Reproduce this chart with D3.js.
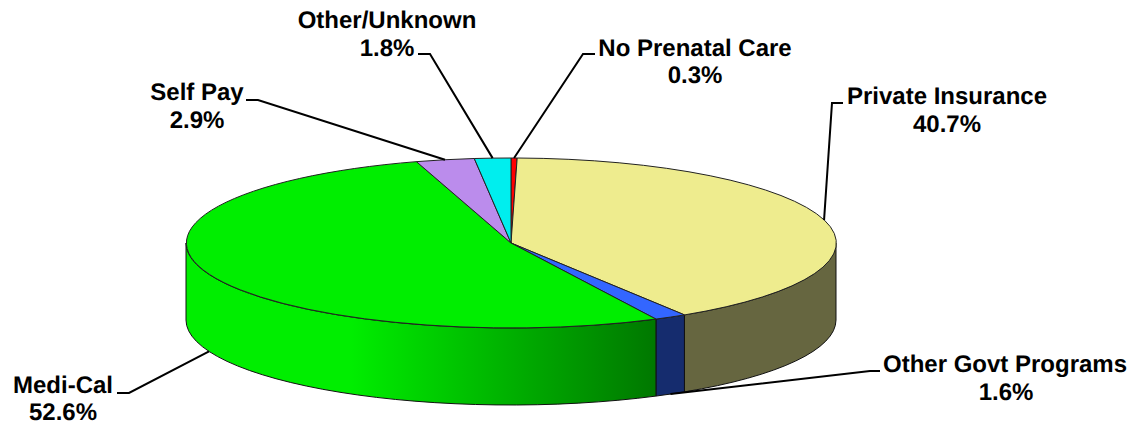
<!DOCTYPE html>
<html>
<head>
<meta charset="utf-8">
<script src="https://cdn.jsdelivr.net/npm/d3@7"></script>
<style>
html, body { margin: 0; padding: 0; background: #fff; }
text { font-family: "Liberation Sans", Arial, sans-serif; font-weight: bold; font-size: 24px; fill: #000; text-anchor: middle; text-rendering: geometricPrecision; }
</style>
</head>
<body>
<div id="chart"></div>
<script>
var categories = ["No Prenatal Care", "Private Insurance", "Other Govt Programs", "Medi-Cal", "Self Pay", "Other/Unknown"];
var shares = [0.3, 40.7, 1.6, 52.6, 2.9, 1.8];
var shareLabels = ["0.3%", "40.7%", "1.6%", "52.6%", "2.9%", "1.8%"];
var topColors = ["#ff0000", "#eeec8e", "#3366ff", "#00ee00", "#bb8cec", "#00eeee"];
var wallColors = ["#7f0000", "#666640", "#152c6e", "url(#mediCalWall)", "#5e4676", "#007777"];

// label layout: elbow of leader, end of leader, centre x of both lines, baselines
var elbowX = [583, 832, 870, 129, 258, 430];
var elbowY = [54, 103, 371, 393, 100, 54];
var endX = [595, 843, 880, 117, 246, 418];
var nameX = [695, 947, 1005, 63, 197, 387];
var valueX = [695, 947, 1006, 63, 197, 387];
var nameY = [56, 104, 372, 393, 100, 28];
var valueY = [83, 132, 400, 419.8, 128, 56];

var width = 1133, height = 425;
var cx = 511, cy = 243, rx = 325, ry = 85, depth = 77;

var svg = d3.select("#chart").append("svg")
	.attr("width", width)
	.attr("height", height)
	.style("display", "block");

var grad = svg.append("defs").append("linearGradient")
	.attr("id", "mediCalWall")
	.attr("gradientUnits", "userSpaceOnUse")
	.attr("x1", 350).attr("y1", 0)
	.attr("x2", 655).attr("y2", 0);
grad.append("stop").attr("offset", "0").attr("stop-color", "#00ee00");
grad.append("stop").attr("offset", "1").attr("stop-color", "#007800");

var pie = d3.pie().sort(null).startAngle(0).endAngle(2 * Math.PI);
var slices = pie(shares);

function px(a) { return cx + rx * Math.sin(a); }
function py(a) { return cy - ry * Math.cos(a); }

// outer wall, only the front half of the ellipse shows
function wallPath(d) {
	var a0 = Math.max(d.startAngle, Math.PI / 2);
	var a1 = Math.min(d.endAngle, 3 * Math.PI / 2);
	if (a1 <= a0) return null;
	return "M" + px(a0) + "," + py(a0)
		+ "A" + rx + "," + ry + " 0 0 1 " + px(a1) + "," + py(a1)
		+ "L" + px(a1) + "," + (py(a1) + depth)
		+ "A" + rx + "," + ry + " 0 0 0 " + px(a0) + "," + (py(a0) + depth)
		+ "Z";
}

svg.append("g")
	.selectAll("path")
	.data(slices.filter(function(d) { return wallPath(d) !== null; }))
	.enter().append("path")
	.attr("d", wallPath)
	.attr("fill", function(d) { return wallColors[d.index]; })
	.attr("stroke", "#111")
	.attr("stroke-width", 1);

var arc = d3.arc().innerRadius(0).outerRadius(1);

svg.append("g")
	.attr("transform", "translate(" + cx + "," + cy + ") scale(" + rx + "," + ry + ")")
	.selectAll("path")
	.data(slices)
	.enter().append("path")
	.attr("d", arc)
	.attr("fill", function(d) { return topColors[d.index]; })
	.attr("stroke", "#222")
	.attr("stroke-width", 1)
	.attr("vector-effect", "non-scaling-stroke");

// leaders start at the middle of each slice's rim
var leaders = svg.append("g");
leaders.selectAll("path")
	.data(slices)
	.enter().append("path")
	.attr("d", function(d) {
		var mid = (d.startAngle + d.endAngle) / 2;
		var y0 = py(mid) + (Math.cos(mid) < 0 ? depth : 0);
		return "M" + px(mid) + "," + y0
			+ "L" + elbowX[d.index] + "," + elbowY[d.index]
			+ "L" + endX[d.index] + "," + elbowY[d.index];
	})
	.attr("fill", "none")
	.attr("stroke", "#000")
	.attr("stroke-width", 2);

var labels = svg.append("g");
categories.forEach(function(name, i) {
	labels.append("text").attr("x", nameX[i]).attr("y", nameY[i]).text(name);
	labels.append("text").attr("x", valueX[i]).attr("y", valueY[i]).text(shareLabels[i]);
});
</script>
</body>
</html>
